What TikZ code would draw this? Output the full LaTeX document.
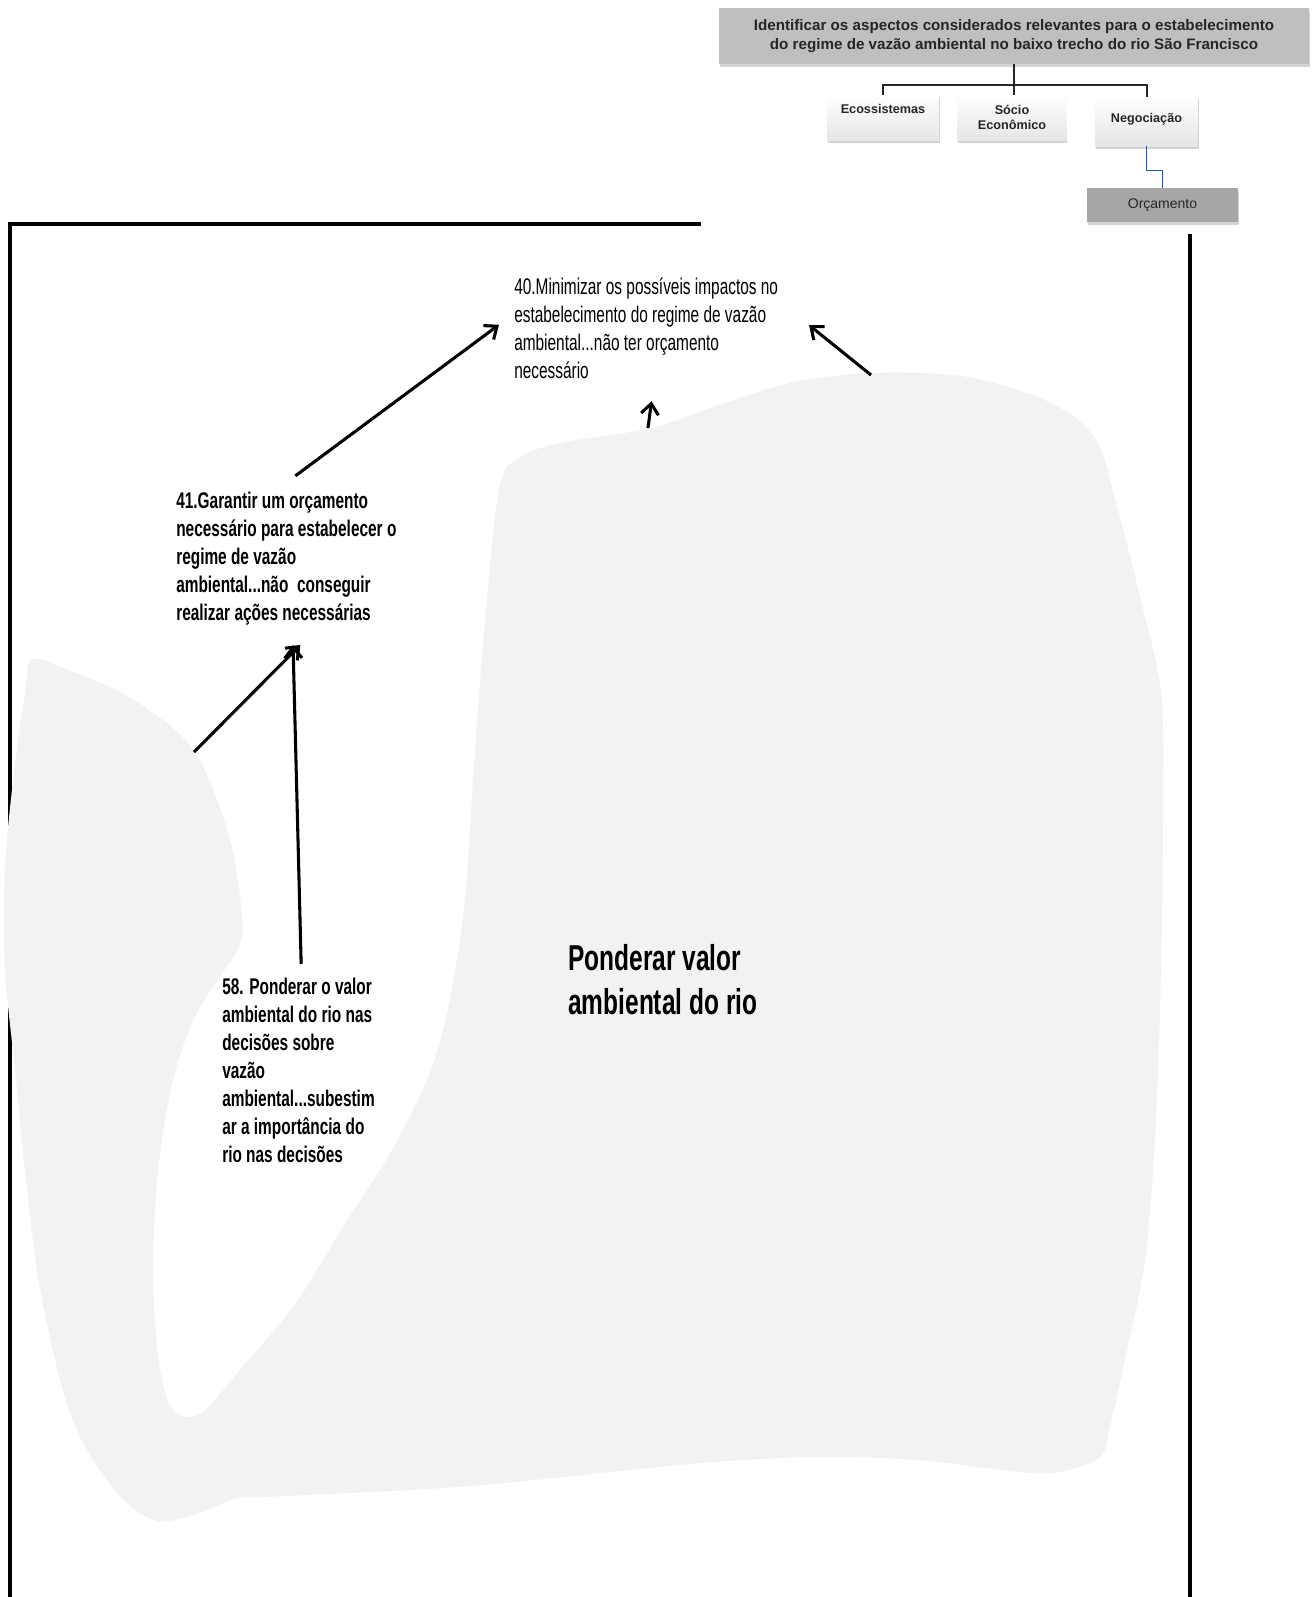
\documentclass[tikz,border=0pt]{standalone}
\usepackage{fontspec}
\setmainfont{Liberation Sans}
\newfontfamily\narrowsans[FakeStretch=0.68]{Liberation Sans}
\usetikzlibrary{arrows.meta,shadows,positioning}
\definecolor{goalgray}{HTML}{BFBFBF}
\definecolor{budgetgray}{HTML}{A6A6A6}
\definecolor{blobgray}{HTML}{F2F2F2}
\definecolor{linkblue}{HTML}{2F4F9F}

\begin{document}
\begin{tikzpicture}[x=0.75pt, y=-0.75pt,
    goal/.style={fill=#1, minimum width=442pt, minimum height=42pt, align=center,
                 font=\fontsize{11.4}{14.5}\selectfont\bfseries, text=black!85,
                 drop shadow={shadow xshift=0.8pt, shadow yshift=-2pt, opacity=0.35}},
    kid/.style={top color=white, bottom color=black!10, minimum width=#1, minimum height=34pt,
                align=center, font=\fontsize{9.5}{11.5}\selectfont\bfseries, text=black!85,
                drop shadow={shadow xshift=0.5pt, shadow yshift=-1.8pt, opacity=0.35}},
    tree/.style={line width=1.5pt, black!85},
    link/.style={line width=1pt, linkblue},
    frame/.style={line width=2.3pt, black},
    idea/.style={font=\narrowsans\fontsize{17}{21}\selectfont#1, align=left, inner sep=0pt},
    idea/.default=\mdseries,
    arr/.style={-{Straight Barb[length=8pt,width=13pt]}, line width=2.3pt, black},
]
\useasboundingbox (0,0) rectangle (1315,1597);

% objective tree, top right
\node[goal=goalgray] (goal) at (1014,36) {Identificar os aspectos considerados relevantes para o estabelecimento\\do regime de vazão ambiental no baixo trecho do rio São Francisco};
\node[kid=84pt, text depth=13pt] (eco) at (883,117.5) {Ecossistemas};
\node[kid=82pt] (socio) at (1012,117.5) {Sócio\\Econômico};
\node[kid=77pt, minimum height=37pt, text depth=6pt] (neg) at (1146.5,121.5) {Negociação};
\node[goal=budgetgray, minimum width=113pt, minimum height=25.5pt,
      font=\fontsize{10.5}{12}\selectfont] (orc) at (1162.5,205) {Orçamento};
\draw[tree] (goal.south) -- ++(0,20.5) -| (eco.north);
\draw[tree] (goal.south) -- (goal.south |- socio.north);
\draw[tree] (goal.south) -- ++(0,20.5) -| (neg.north);
\draw[link] (neg.south) -- ++(0,24) -| (orc.north);

% frame
\draw[frame] (701,224) -- (10,224) -- (10,1597);
\draw[frame] (1190,234) -- (1190,1597);

% cluster
\fill[blobgray] plot[smooth cycle, tension=0.55] coordinates {
  (31,660) (61,667) (122,693) (173,728) (199,759) (219,805) (234,856) (242,917)
  (239,947) (219,978) (194,1019) (173,1080) (158,1171) (153,1273) (158,1355)
  (168,1401) (183,1416) (204,1411) (244,1365) (295,1304) (346,1222) (397,1141)
  (438,1049) (463,917) (474,764) (484,632) (499,489) (519,458) (560,443)
  (652,428) (713,407) (794,382) (876,373) (968,377) (1049,402) (1095,438)
  (1115,499) (1141,601) (1161,693) (1163,815) (1161,968) (1156,1120)
  (1146,1253) (1126,1355) (1110,1426) (1100,1457) (1059,1472) (1019,1472)
  (917,1460) (815,1457) (713,1462) (611,1472) (458,1487) (265,1497) (234,1499)
  (194,1515) (153,1520) (112,1487) (71,1416) (41,1294) (25,1171) (15,1070)
  (5,968) (5,866) (15,764) (25,693)};
\coordinate (c40) at (871,375);
\coordinate (c40b) at (648,428);
\coordinate (c41) at (194,752);

% concepts (anchored on the baseline of the last line)
\node[idea, anchor=base west] (n40) at (514,378) {40.Minimizar os possíveis impactos no\\estabelecimento do regime de vazão\\ambiental...não ter orçamento\\necessário};
\node[idea=\bfseries, anchor=base west] (n41) at (176,620) {41.Garantir um orçamento\\necessário para estabelecer o\\regime de vazão\\ambiental...não\ \ conseguir\\realizar ações necessárias};
\node[idea=\bfseries, anchor=base west] (n58) at (222,1162) {58. Ponderar o valor\\ambiental do rio nas\\decisões sobre\\vazão\\ambiental...subestim\\ar a importância do\\rio nas decisões};
\node[idea=\bfseries, anchor=base west, font=\narrowsans\fontsize{27}{33}\selectfont\bfseries] (pond) at (568,1014) {Ponderar valor\\ambiental do rio};

% links
\draw[arr] ([xshift=6.75pt, yshift=11.6pt]n41.north) -- ([xshift=-11.25pt, yshift=2.25pt]n40.west);
\draw[arr] (c40) -- ([xshift=23pt, yshift=2pt]n40.east);
\draw[arr] (c40b) -- ([xshift=4pt, yshift=-17pt]n40.south);
\draw[arr] (c41) -- ([xshift=10.5pt, yshift=-15pt]n41.south);
\draw[arr] ([xshift=2pt, yshift=10pt]n58.north) -- ([xshift=5pt, yshift=-15pt]n41.south);
\end{tikzpicture}
\end{document}
